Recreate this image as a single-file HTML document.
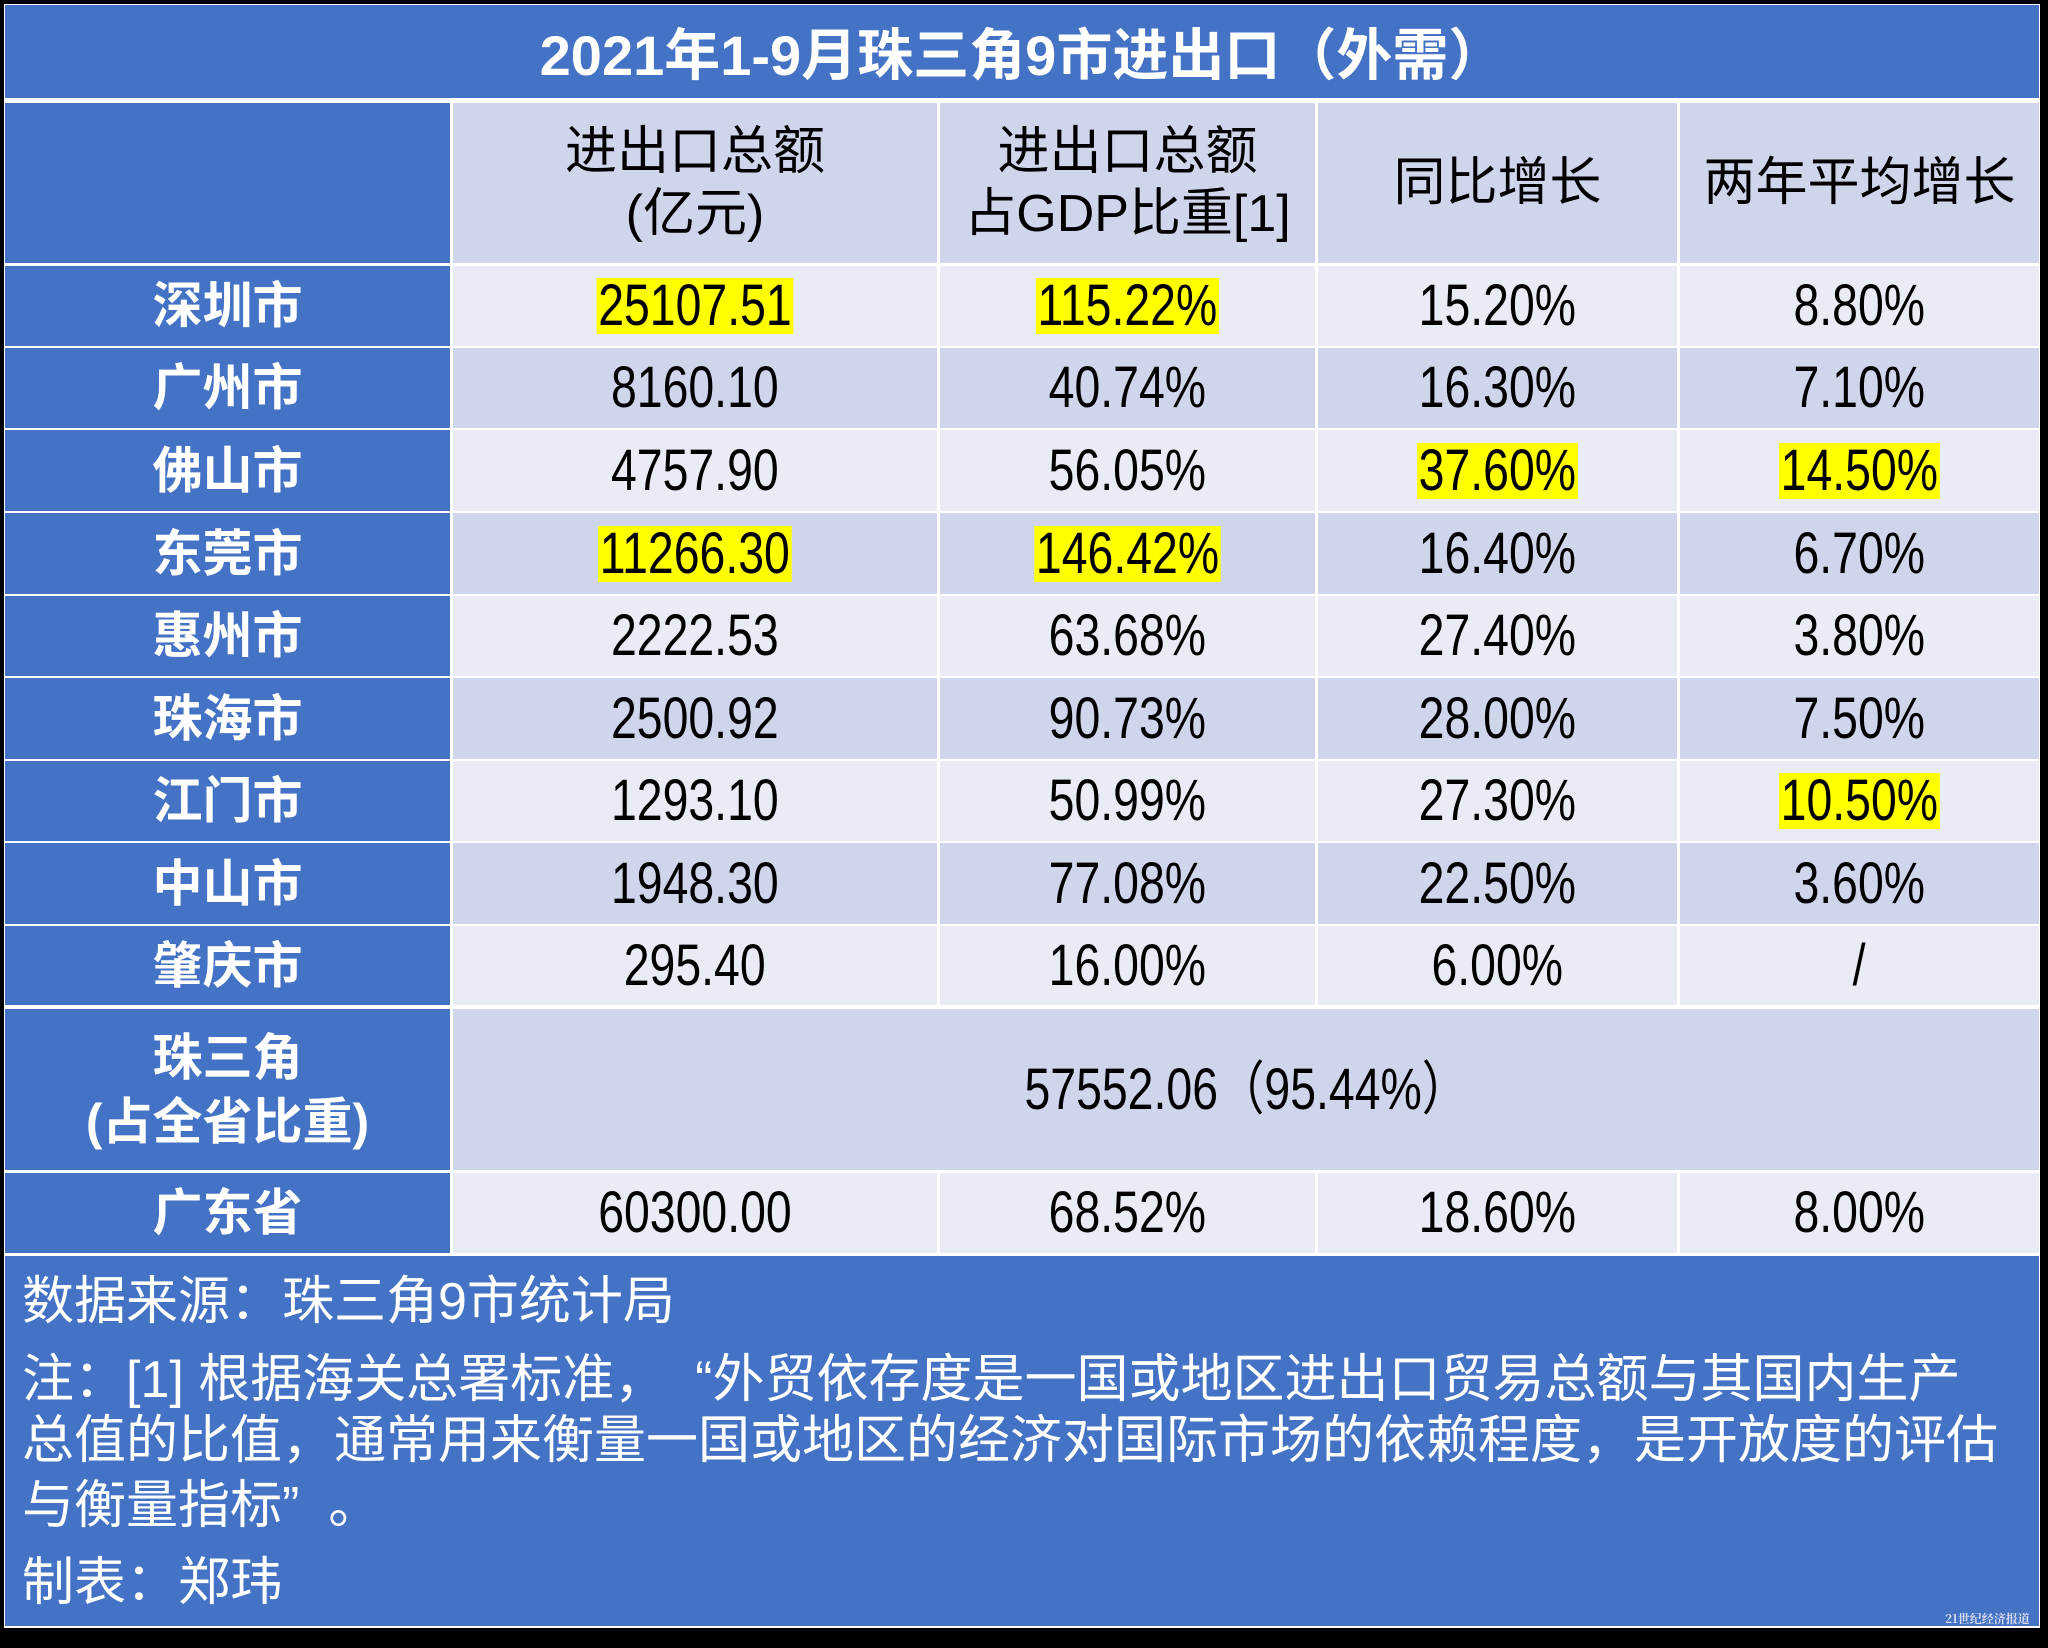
<!DOCTYPE html>
<html><head><meta charset="utf-8">
<style>
html,body{margin:0;padding:0;background:#000;}
#root{position:relative;width:2048px;height:1648px;overflow:hidden;background:#000;font-family:"Liberation Sans","Noto Sans CJK SC",sans-serif;}
.frame{position:absolute;left:4px;top:4px;width:2036px;height:1624px;background:#fff;}
.cell{position:absolute;display:flex;align-items:center;justify-content:center;text-align:center;box-sizing:border-box;}
.blue{background:#4472C4;color:#fff;}
.lt{background:#E9EBF5;color:#000;}
.dk{background:#CFD5EA;color:#000;}
.num{display:inline-block;font-size:58px;line-height:56px;transform:scaleX(.8);white-space:nowrap;padding:0 2px;}
.hl{background:#FFFF00;}
.city{font-weight:bold;font-size:50px;line-height:64px;}
.hdr{font-size:52px;line-height:62px;}
.note{position:absolute;left:22px;color:#fff;font-size:52px;line-height:60px;white-space:nowrap;font-family:"Liberation Sans","Noto Sans CJK SC",sans-serif;}
</style></head>
<body>
<div id="root">
<div class="frame"></div>
<div class="cell blue" style="left:5px;top:5px;width:2034px;height:93px;font-weight:bold;font-size:56px;">2021年1-9月珠三角9市进出口（外需）</div>

<div class="cell blue" style="left:5px;top:103px;width:445px;height:160px;"></div>
<div class="cell dk hdr" style="left:453px;top:103px;width:484px;height:160px;">进出口总额<br>(亿元)</div>
<div class="cell dk hdr" style="left:940px;top:103px;width:375px;height:160px;">进出口总额<br>占GDP比重[1]</div>
<div class="cell dk hdr" style="left:1318px;top:103px;width:359px;height:160px;">同比增长</div>
<div class="cell dk hdr" style="left:1680px;top:103px;width:359px;height:160px;">两年平均增长</div>

<div id="rows"></div>

<div class="cell blue city" style="left:5px;top:1009px;width:445px;height:161px;">珠三角<br>(占全省比重)</div>
<div class="cell dk" style="left:453px;top:1009px;width:1586px;height:161px;"><span class="num" style="font-family:'Liberation Sans','Noto Sans CJK SC',sans-serif;">57552.06（95.44%）</span></div>

<div class="cell blue city" style="left:5px;top:1173px;width:445px;height:80px;">广东省</div>
<div class="cell lt" style="left:453px;top:1173px;width:484px;height:80px;"><span class="num">60300.00</span></div>
<div class="cell lt" style="left:940px;top:1173px;width:375px;height:80px;"><span class="num">68.52%</span></div>
<div class="cell lt" style="left:1318px;top:1173px;width:359px;height:80px;"><span class="num">18.60%</span></div>
<div class="cell lt" style="left:1680px;top:1173px;width:359px;height:80px;"><span class="num">8.00%</span></div>

<div class="cell blue" style="left:5px;top:1256px;width:2034px;height:370px;"></div>
<div class="note" style="top:1272px;">数据来源：珠三角9市统计局</div>
<div class="note" style="top:1350px;">注：[1] 根据海关总署标准，&nbsp;&nbsp;“外贸依存度是一国或地区进出口贸易总额与其国内生产</div>
<div class="note" style="top:1411px;">总值的比值，通常用来衡量一国或地区的经济对国际市场的依赖程度，是开放度的评估</div>
<div class="note" style="top:1476px;">与衡量指标”&nbsp;&nbsp;。</div>
<div class="note" style="top:1553px;">制表：郑玮</div>
<div style="position:absolute;left:1945px;top:1610px;color:#dde;font-size:12px;font-weight:bold;font-family:'Noto Serif CJK SC',serif;">21世纪经济报道</div>
</div>
<script>
const cities=["深圳市","广州市","佛山市","东莞市","惠州市","珠海市","江门市","中山市","肇庆市"];
const totals=["25107.51","8160.10","4757.90","11266.30","2222.53","2500.92","1293.10","1948.30","295.40"];
const gdpShare=["115.22%","40.74%","56.05%","146.42%","63.68%","90.73%","50.99%","77.08%","16.00%"];
const yoy=["15.20%","16.30%","37.60%","16.40%","27.40%","28.00%","27.30%","22.50%","6.00%"];
const twoYear=["8.80%","7.10%","14.50%","6.70%","3.80%","7.50%","10.50%","3.60%","/"];
const highlights=[[1,2],[],[3,4],[1,2],[],[],[4],[],[]];
const rowTops=[266,348,430,513,596,678,761,843,926,1007];
const cols=[[5,445],[453,484],[940,375],[1318,359],[1680,359]];
const rows=document.getElementById('rows');
cities.forEach((c,i)=>{
  const vals=[c,totals[i],gdpShare[i],yoy[i],twoYear[i]];
  const top=rowTops[i], h=rowTops[i+1]-top-2;
  vals.forEach((v,j)=>{
    const d=document.createElement('div');
    d.className='cell '+(j===0?'blue city':(i%2===0?'lt':'dk'));
    d.style.left=cols[j][0]+'px';d.style.top=top+'px';d.style.width=cols[j][1]+'px';d.style.height=h+'px';
    
    
    if(j===0){d.textContent=v;}
    else{const s=document.createElement('span');s.className='num'+(highlights[i].includes(j)?' hl':'');s.textContent=v;d.appendChild(s);}
    rows.appendChild(d);
  });
});
</script>
</body></html>
